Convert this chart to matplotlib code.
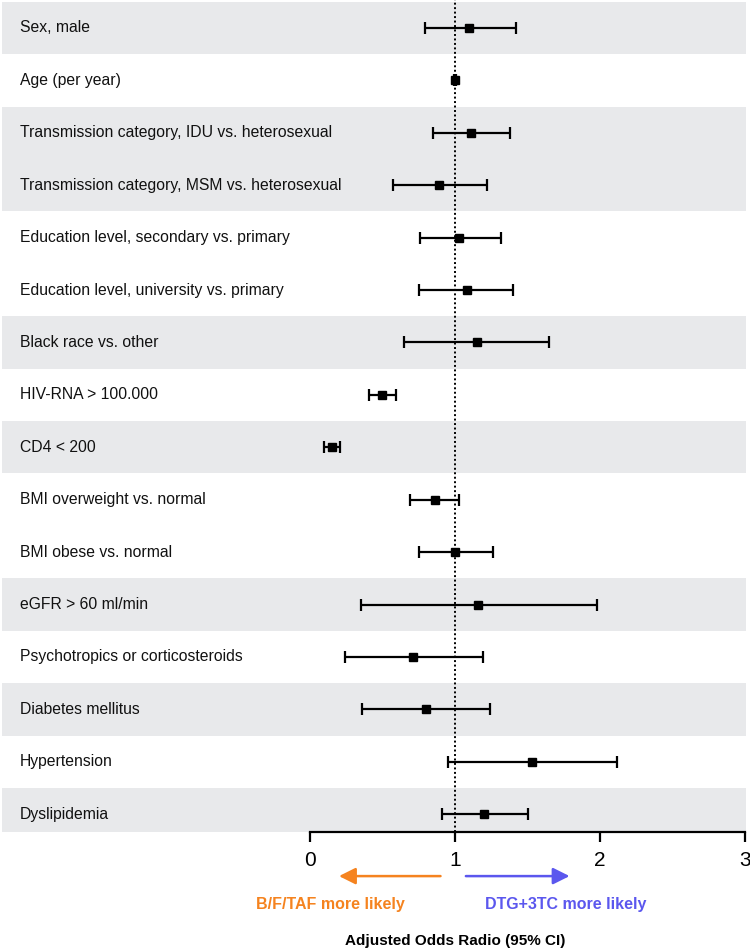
import numpy as np
from matplotlib import pyplot as plt

labels = [
    "Sex, male",
    "Age (per year)",
    "Transmission category, IDU vs. heterosexual",
    "Transmission category, MSM vs. heterosexual",
    "Education level, secondary vs. primary",
    "Education level, university vs. primary",
    "Black race vs. other",
    "HIV-RNA > 100.000",
    "CD4 < 200",
    "BMI overweight vs. normal",
    "BMI obese vs. normal",
    "eGFR > 60 ml/min",
    "Psychotropics or corticosteroids",
    "Diabetes mellitus",
    "Hypertension",
    "Dyslipidemia",
]
odds = [1.10, 1.00, 1.11, 0.89, 1.03, 1.08, 1.15, 0.50, 0.15, 0.86, 1.00, 1.16, 0.71, 0.80, 1.53, 1.20]
lower = [0.79, 0.99, 0.85, 0.57, 0.76, 0.75, 0.65, 0.41, 0.10, 0.69, 0.75, 0.35, 0.24, 0.36, 0.95, 0.91]
upper = [1.42, 1.01, 1.38, 1.22, 1.32, 1.40, 1.65, 0.59, 0.21, 1.03, 1.26, 1.98, 1.19, 1.24, 2.12, 1.50]
shaded = [1, 0, 1, 1, 0, 0, 1, 0, 1, 0, 0, 1, 0, 1, 0, 1]
xticks = [0, 1, 2, 3]

ORANGE = "#F5831F"
BLUE = "#5B57EE"
BAND = "#E8E9EB"


def main():
    plt.rcParams['font.family'] = ['Liberation Sans', 'DejaVu Sans']

    fig = plt.figure(figsize=(7.5, 9.52), dpi=100)
    ax = fig.add_axes([0, 120 / 952, 1, 832 / 952])

    n = len(labels)
    y = np.arange(n)
    odds_a = np.array(odds)
    err = np.array([odds_a - np.array(lower), np.array(upper) - odds_a])

    # x range chosen so that 0..3 sits on the right part of the figure
    ax.set_xlim(-310 / 145, 440 / 145)
    ax.set_ylim(15.34, -0.534)

    # grey row bands
    for i in range(n):
        if shaded[i]:
            ax.axhspan(i - 0.5, i + 0.5, xmin=2 / 750, xmax=746 / 750,
                       color=BAND, lw=0, zorder=0)

    ax.axvline(1, color="black", ls=(0, (1, 1.3)), lw=1.4, zorder=1)

    ax.errorbar(odds_a, y, xerr=err, fmt="s", color="black", ms=6,
                elinewidth=1.6, capsize=4, capthick=1.6, zorder=3)

    for i, lab in enumerate(labels):
        ax.text(20 / 750, i, lab, transform=ax.get_yaxis_transform(),
                ha="left", va="center", fontsize=11.3, color="#111111")

    for s in ["top", "right", "left"]:
        ax.spines[s].set_visible(False)
    ax.spines["bottom"].set_linewidth(1.6)
    ax.spines["bottom"].set_bounds(0, 3)
    ax.set_yticks([])
    ax.set_xticks(xticks)
    ax.set_xticklabels([str(t) for t in xticks])
    ax.tick_params(axis="x", length=7.5, width=1.6, labelsize=15, pad=6)

    # direction arrows under the axis
    tr = ax.get_xaxis_transform()
    ax.annotate("", xy=(0.2, -0.053), xytext=(0.9, -0.053), xycoords=tr,
                textcoords=tr, annotation_clip=False,
                arrowprops=dict(arrowstyle="-|>,head_length=0.5,head_width=0.25",
                                lw=1.8, color=ORANGE, mutation_scale=20,
                                shrinkA=0, shrinkB=0))
    ax.annotate("", xy=(1.79, -0.053), xytext=(1.075, -0.053), xycoords=tr,
                textcoords=tr, annotation_clip=False,
                arrowprops=dict(arrowstyle="-|>,head_length=0.5,head_width=0.25",
                                lw=1.8, color=BLUE, mutation_scale=20,
                                shrinkA=0, shrinkB=0))
    ax.text(0.14, -0.087, "B/F/TAF more likely", transform=tr, ha="center",
            va="center", fontsize=11.5, fontweight="bold", color=ORANGE)
    ax.text(1.76, -0.087, "DTG+3TC more likely", transform=tr, ha="center",
            va="center", fontsize=11.5, fontweight="bold", color=BLUE)

    ax.set_xlabel("Adjusted Odds Radio (95% CI)", fontsize=11, fontweight="bold")
    ax.xaxis.set_label_coords(1, -0.131, transform=tr)
    ax.xaxis.label.set_va("center")

    fig.savefig("out.png", dpi=100, facecolor="white")


if __name__ == "__main__":
    main()
